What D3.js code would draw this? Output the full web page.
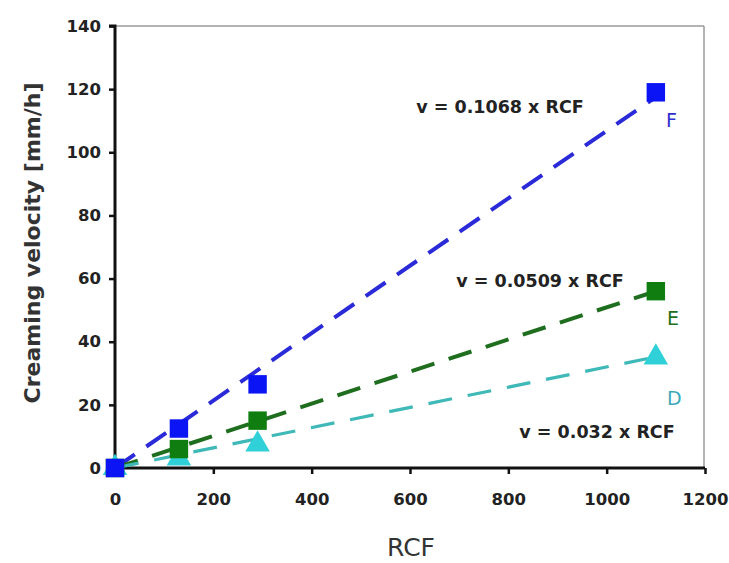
<!DOCTYPE html>
<html><head><meta charset="utf-8">
<script src="https://cdn.jsdelivr.net/npm/d3@7"></script>
<style>body{margin:0;background:#fff}svg{display:block}</style>
</head><body>
<svg id="c" width="729" height="563"></svg>
<script>
const xTicks = [0, 200, 400, 600, 800, 1000, 1200];
const yTicks = [0, 20, 40, 60, 80, 100, 120, 140];
const rcf = [0, 130, 290, 1100];
const seriesNames = ["F", "E", "D"];
const valuesF = [0, 12.5, 26.5, 119];
const valuesE = [0, 6, 15, 56];
const valuesD = [0, 3, 7.5, 35];
const slopes = [0.1068, 0.0509, 0.032];
const equations = ["v = 0.1068 x RCF", "v = 0.0509 x RCF", "v = 0.032 x RCF"];

const svg = d3.select("#c");
const x = d3.scaleLinear().domain([0, 1200]).range([115, 705]);
const y = d3.scaleLinear().domain([0, 140]).range([468, 26]);

// frame (top/right gray)
svg.append("line").attr("x1", 115).attr("x2", 704).attr("y1", 26).attr("y2", 26).attr("stroke", "#9a9a9a").attr("stroke-width", 1.5);
svg.append("line").attr("x1", 704).attr("x2", 704).attr("y1", 26).attr("y2", 468).attr("stroke", "#9a9a9a").attr("stroke-width", 1.5);

const font = "'DejaVu Sans', sans-serif";
const yAxis = svg.append("g").attr("transform", "translate(115,0)")
  .call(d3.axisLeft(y).tickValues(yTicks).tickFormat(d3.format("d")).tickSize(6).tickPadding(8));
const xAxis = svg.append("g").attr("transform", "translate(0,468)")
  .call(d3.axisBottom(x).tickValues(xTicks).tickFormat(d3.format("d")).tickSize(6).tickPadding(19));
[yAxis, xAxis].forEach(g => {
  g.select(".domain").attr("stroke", "#111").attr("stroke-width", 3);
  g.selectAll(".tick line").attr("stroke", "#111").attr("stroke-width", 2.5);
  g.selectAll(".tick text").attr("font-family", font).attr("font-weight", "bold")
    .attr("font-size", 16.5).attr("fill", "#222");
});
yAxis.select(".domain").attr("d", "M-6,26H0V468");
xAxis.select(".domain").attr("d", "M115,0H705");

const series = [
  {name: "F", vals: valuesF, slope: slopes[0], line: "#2a2ad8", fill: "#0a14f5", shape: "square", dash: "24,14", w: 4},
  {name: "E", vals: valuesE, slope: slopes[1], line: "#1f6e1f", fill: "#0f7d0f", shape: "square", dash: "24,15", w: 4},
  {name: "D", vals: valuesD, slope: slopes[2], line: "#3fb8b8", fill: "#30d0d8", shape: "triangle", dash: "24,16", w: 3.2}
];

// trend lines
series.forEach(s => {
  svg.append("line")
    .attr("x1", x(0)).attr("y1", y(0))
    .attr("x2", x(1100)).attr("y2", y(s.slope * 1100))
    .attr("stroke", s.line).attr("stroke-width", s.w)
    .attr("stroke-dasharray", s.dash);
});

// markers
const sym = {square: d3.symbolSquare, triangle: d3.symbolTriangle};
series.slice().reverse().forEach(s => {
  svg.append("g").selectAll("path").data(rcf.map((r, i) => [r, s.vals[i]])).join("path")
    .attr("transform", d => `translate(${x(d[0])},${y(d[1])})`)
    .attr("d", d3.symbol().type(sym[s.shape]).size(s.shape === "square" ? 340 : 260))
    .attr("fill", s.fill);
});

// series letters
const letterPos = [[666, 127], [667, 325], [667, 405]];
const letterCol = ["#3030d0", "#207020", "#3aa8b8"];
series.forEach((s, i) => {
  svg.append("text").attr("x", letterPos[i][0]).attr("y", letterPos[i][1])
    .attr("font-family", font).attr("font-size", 19)
    .attr("fill", letterCol[i]).text(s.name);
});

// equations
const eqPos = [[500, 113], [540, 287], [597, 438]];
equations.forEach((t, i) => {
  svg.append("text").attr("x", eqPos[i][0]).attr("y", eqPos[i][1]).attr("text-anchor", "middle")
    .attr("font-family", font).attr("font-size", 17.5).attr("font-weight", "bold")
    .attr("fill", "#222").text(t);
});

// axis titles
svg.append("text").attr("transform", "translate(40,243) rotate(-90)").attr("text-anchor", "middle")
  .attr("font-family", font).attr("font-size", 22).attr("font-weight", "bold")
  .attr("fill", "#333").text("Creaming velocity [mm/h]");
svg.append("text").attr("x", 411).attr("y", 556).attr("text-anchor", "middle")
  .attr("font-family", font).attr("font-size", 25)
  .attr("fill", "#333").text("RCF");
</script>
</body></html>
